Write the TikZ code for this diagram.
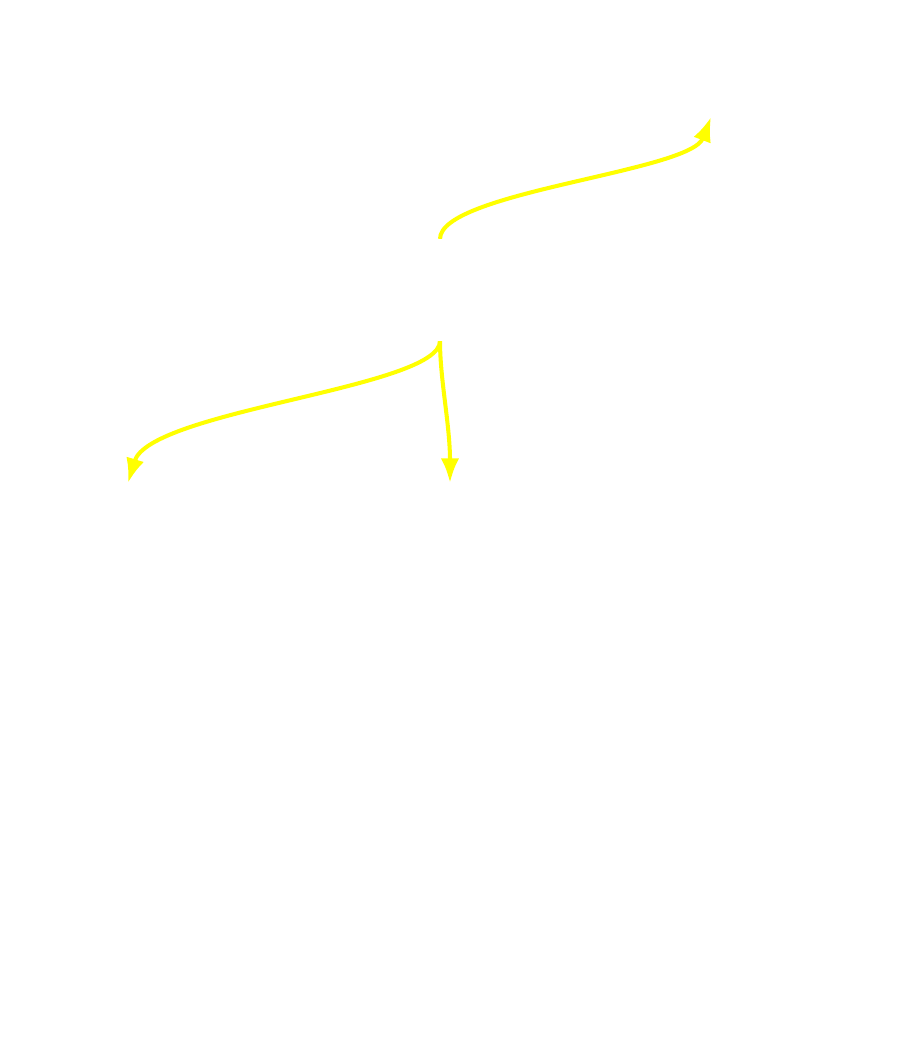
\documentclass[tikz,border=0pt]{standalone}
\usetikzlibrary{arrows.meta,backgrounds}
\definecolor{arrowyellow}{RGB}{255,255,0}
\tikzset{
  ghost/.style={draw=white,fill=none,line width=1.2pt,inner sep=0pt},
  flow/.style={draw=arrowyellow,line width=2.3pt,-{Latex[length=14pt,width=10.5pt]}}
}
\begin{document}
\begin{tikzpicture}[x=0.02cm,y=-0.02cm]
\useasboundingbox (0,0) rectangle (920,1060);
\node[ghost,minimum width=1.6cm,minimum height=2cm] (c) at (440,290) {};
\node[ghost,minimum width=1.6cm,minimum height=1.4cm] (t) at (711,81) {};
\node[ghost,minimum width=1.6cm,minimum height=1.4cm] (l) at (128,519) {};
\node[ghost,minimum width=1.6cm,minimum height=1.4cm] (m) at (450,519) {};
\begin{scope}[on background layer]
\draw[flow] (c.north) .. controls (440,192) and (690,172) .. (t.south);
\draw[flow] (c.south) .. controls (440,388) and (150,410) .. (l.north);
\draw[flow] (c.south) .. controls (440,380) and (450,425) .. (m.north);
\end{scope}
\end{tikzpicture}
\end{document}
